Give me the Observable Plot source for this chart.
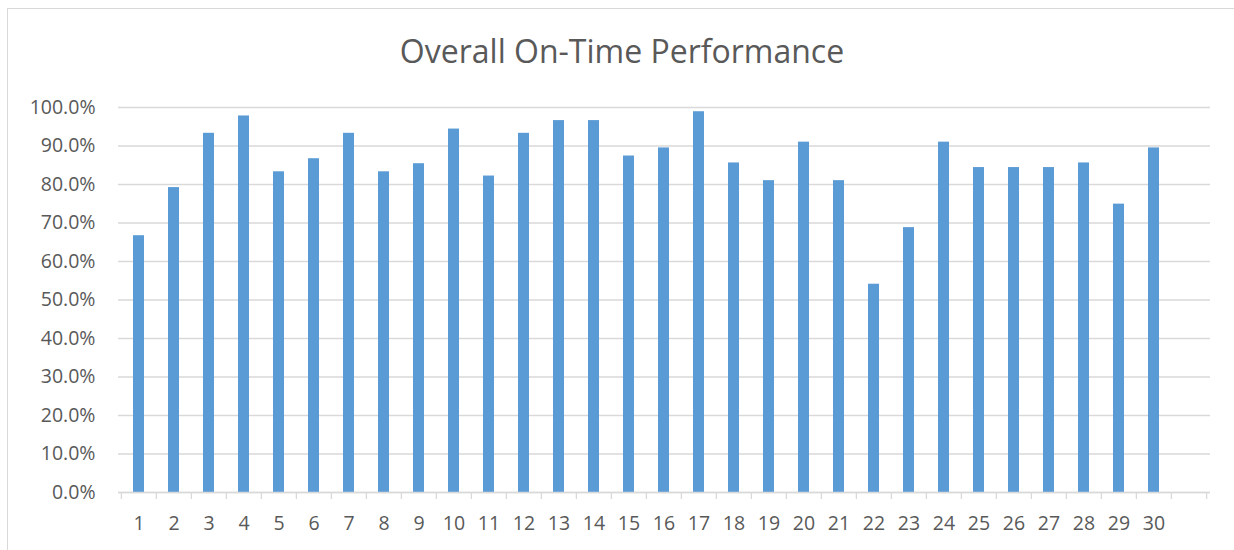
<!DOCTYPE html>
<html>
<head>
<meta charset="utf-8">
<script src="https://cdn.jsdelivr.net/npm/d3@7"></script>
<script src="https://cdn.jsdelivr.net/npm/@observablehq/plot@0.6"></script>
<style>
  html, body { margin: 0; padding: 0; background: #fff; overflow: hidden; }
  body { font-family: "Open Sans", sans-serif; width: 1234px; height: 550px; position: relative; }
  #frame { position: absolute; left: 7px; top: 8px; right: 0; bottom: 0;
           border-left: 1px solid #d9d9d9; border-top: 1px solid #d9d9d9; pointer-events: none; }
  #title { height: 80px; box-sizing: border-box; padding-top: 31px; line-height: 40px;
           font-size: 32px; color: #595959; text-align: center; margin-left: 10px; width: 1224px;
           white-space: nowrap; }
  #chart svg { display: block; }
</style>
</head>
<body>
<div id="frame"></div>
<div id="title">Overall On-Time Performance</div>
<div id="chart"></div>
<script>
// Categories (days) and on-time percentages
const days = ["1","2","3","4","5","6","7","8","9","10","11","12","13","14","15",
              "16","17","18","19","20","21","22","23","24","25","26","27","28","29","30"];
const onTime = [66.7, 79.2, 93.3, 97.8, 83.3, 86.7, 93.3, 83.3, 85.4, 94.4,
                82.2, 93.3, 96.6, 96.6, 87.4, 89.5, 98.9, 85.6, 81.0, 91.0,
                81.0, 54.1, 68.8, 91.0, 84.4, 84.4, 84.4, 85.6, 74.9, 89.5];
const yTicks = [0, 0.1, 0.2, 0.3, 0.4, 0.5, 0.6, 0.7, 0.8, 0.9, 1.0];

const data = days.map((d, i) => ({day: d, value: onTime[i] / 100}));

const W = 1234, H = 470;
const mL = 118, mR = 24, mT = 27, mB = 58;
const xDomain = [...days, ""];           // trailing empty category slot
const step = (W - mL - mR) / xDomain.length;
const grey = "#d9d9d9", textCol = "#595959";

const chart = Plot.plot({
  width: W, height: H,
  marginLeft: mL, marginRight: mR, marginTop: mT, marginBottom: mB,
  style: {fontFamily: "'Open Sans', sans-serif", fontSize: "19.5px", color: textCol, background: "white"},
  x: {type: "band", domain: xDomain, paddingInner: 0.68, paddingOuter: 0.34, align: 0.5, label: null},
  y: {domain: [0, 1], label: null},
  marks: [
    Plot.gridY(yTicks, {stroke: grey, strokeOpacity: 1, strokeWidth: 1.3}),
    Plot.barY(data, {x: "day", y: "value", fill: "#5b9bd5"}),
    Plot.ruleY([0], {stroke: grey, strokeWidth: 1.3}),
    Plot.axisY(yTicks, {tickSize: 0, tickPadding: 23, tickFormat: d3.format(".1%"), fill: textCol, label: null}),
    Plot.axisX(days, {tickSize: 0, tickPadding: 24, fill: textCol, label: null}),
    Plot.axisX(xDomain, {tickSize: 7, tickFormat: () => "", stroke: grey, strokeWidth: 1.3, dx: -step / 2, label: null}),
    Plot.axisX([""], {tickSize: 7, tickFormat: () => "", stroke: grey, strokeWidth: 1.3, dx: step / 2, label: null})
  ]
});
document.getElementById("chart").appendChild(chart);
</script>
</body>
</html>
